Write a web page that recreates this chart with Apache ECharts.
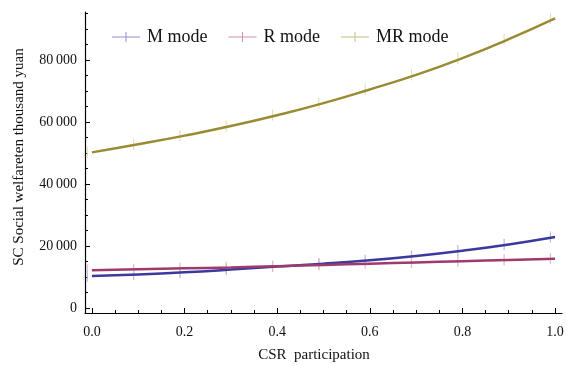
<!DOCTYPE html>
<html>
<head>
<meta charset="utf-8">
<script src="https://cdn.jsdelivr.net/npm/echarts@6/dist/echarts.min.js"></script>
<style>
  html, body { margin: 0; padding: 0; background: #fff; }
  #chart { width: 567px; height: 365px; }
</style>
</head>
<body>
<div id="chart"></div>
<script>
// CSR participation levels
const xs = [0, 0.1, 0.2, 0.3, 0.4, 0.5, 0.6, 0.7, 0.8, 0.9, 1.0]
// SC social welfare (ten thousand yuan)
const mMode = [10300, 10800, 11500, 12400, 13400, 14300, 15400, 16800, 18500, 20500, 22900]
const rMode = [12200, 12500, 12800, 13100, 13500, 13900, 14300, 14700, 15100, 15500, 15900]
const mrMode = [50200, 52800, 55600, 58700, 62200, 66100, 70500, 75200, 80600, 86700, 93400]
// error bar positions (slightly shifted from the points) and half height
const errX = [-0.01, 0.09, 0.19, 0.29, 0.39, 0.49, 0.59, 0.69, 0.79, 0.89, 0.99]
const errHalf = 1800
// tick values
const xMajor = [0, 0.2, 0.4, 0.6, 0.8, 1.0]
const xMinor = [0.05, 0.1, 0.15, 0.25, 0.3, 0.35, 0.45, 0.5, 0.55, 0.65, 0.7, 0.75, 0.85, 0.9, 0.95, 1.0]
const yMajor = [0, 20000, 40000, 60000, 80000]
const yMinor = [5000, 10000, 15000, 25000, 30000, 35000, 45000, 50000, 55000, 65000, 70000, 75000, 85000, 90000, 95000]

const FONT = '"Liberation Serif", "DejaVu Serif", serif'
const modes = [
  { name: 'M mode', values: mMode, color: '#3a3a9e', light: '#b9b9e2', legend: '#8f8fd0' },
  { name: 'R mode', values: rMode, color: '#9e3a6c', light: '#e4b9cf', legend: '#cf8fb0' },
  { name: 'MR mode', values: mrMode, color: '#9a8b32', light: '#e6dfb6', legend: '#c9bd84' }
]

const X_MIN = -0.015
const X_MAX = 1.015
const Y_MIN = -1610
const Y_MAX = 95480

function fmtY (v) {
  return String(v).replace(/(\d)(?=(\d{3})+$)/, '$1\u2009')
}

const chart = echarts.init(document.getElementById('chart'), null, { renderer: 'canvas' })

const series = []
modes.forEach((m, i) => {
  series.push({
    name: m.name + ' err',
    type: 'custom',
    xAxisIndex: 0,
    yAxisIndex: 0,
    z: 1,
    silent: true,
    data: errX.map((x, k) => [x, m.values[k]]),
    renderItem (params, api) {
      const x = api.value(0)
      const y = api.value(1)
      const p1 = api.coord([x, y - errHalf])
      const p2 = api.coord([x, y + errHalf])
      return {
        type: 'line',
        shape: { x1: p1[0], y1: p1[1], x2: p2[0], y2: p2[1] },
        style: { stroke: m.light, lineWidth: 1.2 }
      }
    }
  })
})
modes.forEach((m) => {
  series.push({
    name: m.name,
    type: 'line',
    xAxisIndex: 0,
    yAxisIndex: 0,
    z: 3,
    smooth: true,
    showSymbol: false,
    silent: true,
    lineStyle: { color: m.color, width: 2.5 },
    itemStyle: { color: m.color },
    data: xs.map((x, k) => [x, m.values[k]])
  })
})

const axisLine = { show: true, onZero: false, lineStyle: { color: '#000', width: 1.2 } }
const hiddenLine = { show: false, onZero: false }

chart.setOption({
  animation: false,
  backgroundColor: '#fff',
  grid: { left: 85, right: 5, top: 12, bottom: 52, containLabel: false },
  legend: {
    left: 107,
    top: 23,
    itemWidth: 28,
    itemHeight: 10,
    itemGap: 21,
    icon: 'path://M0,4.5h28v1h-28z M13.5,0h1v10h-1z',
    textStyle: { fontFamily: FONT, fontSize: 18, color: '#111', padding: [0, 0, 0, 2] },
    data: modes.map(m => ({ name: m.name, itemStyle: { color: m.legend } }))
  },
  xAxis: [{
    type: 'value',
    min: X_MIN,
    max: X_MAX,
    axisLine: axisLine,
    splitLine: { show: false },
    axisTick: { show: true, inside: true, length: 5, customValues: xMajor, lineStyle: { color: '#000' } },
    axisLabel: {
      customValues: xMajor,
      margin: 12,
      fontFamily: FONT,
      fontSize: 14,
      color: '#111',
      formatter: v => v.toFixed(1)
    }
  }, {
    type: 'value',
    position: 'bottom',
    min: X_MIN,
    max: X_MAX,
    axisLine: hiddenLine,
    splitLine: { show: false },
    axisTick: { show: true, inside: true, length: 3, customValues: xMinor, lineStyle: { color: '#000' } },
    axisLabel: { show: false }
  }],
  yAxis: [{
    type: 'value',
    min: Y_MIN,
    max: Y_MAX,
    axisLine: axisLine,
    splitLine: { show: false },
    axisTick: { show: true, inside: true, length: 5, customValues: yMajor, lineStyle: { color: '#000' } },
    axisLabel: {
      customValues: yMajor,
      margin: 8,
      fontFamily: FONT,
      fontSize: 14,
      color: '#111',
      formatter: fmtY
    }
  }, {
    type: 'value',
    position: 'left',
    min: Y_MIN,
    max: Y_MAX,
    axisLine: hiddenLine,
    splitLine: { show: false },
    axisTick: { show: true, inside: true, length: 3, customValues: yMinor, lineStyle: { color: '#000' } },
    axisLabel: { show: false }
  }],
  graphic: [{
    type: 'text',
    x: 19,
    y: 157,
    rotation: Math.PI / 2,
    style: {
      text: 'SC Social welfareten thousand yuan',
      fontFamily: FONT,
      fontSize: 15,
      fill: '#111',
      textAlign: 'center',
      textVerticalAlign: 'middle'
    }
  }, {
    type: 'text',
    x: 314,
    y: 355,
    style: {
      text: 'CSR  participation',
      fontFamily: FONT,
      fontSize: 15,
      fill: '#111',
      textAlign: 'center',
      textVerticalAlign: 'middle'
    }
  }],
  series: series
})
</script>
</body>
</html>
